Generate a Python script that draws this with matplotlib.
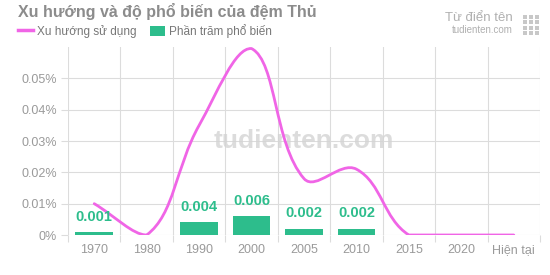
import numpy as np
import matplotlib
matplotlib.use("Agg")
import matplotlib.pyplot as plt
from matplotlib.path import Path
from matplotlib.patches import PathPatch, Rectangle
from matplotlib.lines import Line2D

plt.rcParams['font.family'] = ['Liberation Sans', 'DejaVu Sans']

# data
years = ['1970', '1980', '1990', '2000', '2005', '2010', '2015', '2020', 'Hiện tại']
trend = [0.010, 0.0, 0.035, 0.0595, 0.018, 0.021, 0.0, 0.0, 0.0]
popularity = [0.001, None, 0.004, 0.006, 0.002, 0.002, None, None, None]
yticks = [0, 0.01, 0.02, 0.03, 0.04, 0.05]
ytick_labels = ['0%', '0.01%', '0.02%', '0.03%', '0.04%', '0.05%']

PINK = '#f065e6'
GREEN = '#2dbd8c'
GRID = '#dcdcdc'
TXT = '#9a9a9a'

fig = plt.figure(figsize=(5.5, 2.75), dpi=100)
ax = fig.add_axes([68 / 550, 1 - 235 / 275, 472 / 550, 188 / 275])
ymax = 0.06
ax.set_xlim(-0.5, len(years) - 0.5)
ax.set_ylim(0, ymax)

# bars + labels
x = np.arange(len(years))
for xi, v in zip(x, popularity):
    if v is None:
        continue
    ax.bar(xi, v, width=0.72, color=GREEN, zorder=2)
    ax.annotate(f'{v:.3f}', (xi, v), xytext=(0, 6), textcoords='offset points',
                ha='center', va='bottom', color=GREEN, fontsize=10.5,
                fontweight='bold', zorder=4)


# smooth line, chart.js style spline (tension 0.4) with control points capped to the area
def spline_path(xs, ys, t=0.4):
    sx = 472 / len(xs)
    sy = 188 / ymax
    px = np.array(xs, float) * sx
    py = np.array(ys, float) * sy
    n = len(px)
    cp_prev, cp_next = [], []
    for i in range(n):
        p0 = (px[max(i - 1, 0)], py[max(i - 1, 0)])
        p1 = (px[i], py[i])
        p2 = (px[min(i + 1, n - 1)], py[min(i + 1, n - 1)])
        d01 = np.hypot(p1[0] - p0[0], p1[1] - p0[1])
        d12 = np.hypot(p2[0] - p1[0], p2[1] - p1[1])
        tot = d01 + d12
        s01 = d01 / tot if tot else 0
        s12 = d12 / tot if tot else 0
        fa, fb = t * s01, t * s12
        a = (p1[0] - fa * (p2[0] - p0[0]), p1[1] - fa * (p2[1] - p0[1]))
        b = (p1[0] + fb * (p2[0] - p0[0]), p1[1] + fb * (p2[1] - p0[1]))
        cap = lambda q: (q[0] / sx, min(max(q[1] / sy, 0), ymax))
        cp_prev.append(cap(a))
        cp_next.append(cap(b))
    verts = [(xs[0], ys[0])]
    codes = [Path.MOVETO]
    for i in range(n - 1):
        verts += [cp_next[i], cp_prev[i + 1], (xs[i + 1], ys[i + 1])]
        codes += [Path.CURVE4] * 3
    return Path(verts, codes)


ax.add_patch(PathPatch(spline_path(list(x), trend), facecolor='none',
                       edgecolor=PINK, lw=2.0, zorder=3, capstyle='round'))

# axes styling
ax.set_xticks(x)
ax.set_xticklabels([])
ax.set_xticks(np.arange(-0.5, len(years), 1), minor=True)
ax.set_yticks(yticks)
ax.set_yticklabels(ytick_labels)
ax.tick_params(axis='x', which='major', length=0)
ax.tick_params(axis='x', which='minor', length=5, color=GRID, width=0.8)
ax.tick_params(axis='y', length=5, color=GRID, width=0.8, pad=3, labelsize=9, labelcolor=TXT)
# x labels on a common baseline
for xi, lab in zip(x, years):
    ax.annotate(lab, (xi, 0), xycoords=('data', 'axes fraction'), xytext=(0, -13),
                textcoords='offset points', ha='center', va='baseline',
                fontsize=9, color=TXT, annotation_clip=False)
ax.grid(axis='x', which='minor', color=GRID, lw=0.8, zorder=0)
ax.grid(axis='y', which='major', color=GRID, lw=0.8, zorder=0)
for s in ax.spines.values():
    s.set_visible(False)
ax.set_axisbelow(True)

# watermark
ax.text(0.5, 0.5, 'tudienten.com', transform=ax.transAxes, ha='center', va='center',
        fontsize=19, fontweight='bold', color='#d4d4d4', alpha=0.8, zorder=1)

# title and legend
fig.text(18 / 550, 1 - 12 / 275, 'Xu hướng và độ phổ biến của đệm Thủ', fontsize=11.5,
         fontweight='bold', color='#8c8c8c', ha='left', va='center')
handles = [Line2D([], [], color=PINK, lw=2.5),
           Rectangle((0, 0), 1, 1, facecolor=GREEN)]
fig.legend(handles, ['Xu hướng sử dụng', 'Phần trăm phổ biến'], loc='center left',
           bbox_to_anchor=(18 / 550, 1 - 31 / 275), ncol=2, frameon=False, fontsize=8.5,
           labelcolor='#777777', handlelength=1.3, handleheight=0.9, handletextpad=0.35,
           columnspacing=1.1, borderaxespad=0, borderpad=0)

# logo
fig.text(513 / 550, 1 - 18 / 275, 'Từ điển tên', fontsize=9.5, color='#b0b0b0',
         ha='right', va='center')
fig.text(513 / 550, 1 - 30 / 275, 'tudienten.com', fontsize=7, color='#b0b0b0',
         ha='right', va='center')
for i in range(3):
    for j in range(4):
        fig.patches.append(Rectangle(((523 + i * 6) / 550, 1 - (35 - j * 5.5) / 275), 4 / 550,
                                     4 / 275, transform=fig.transFigure,
                                     facecolor='#c8c8c8', edgecolor='none'))

fig.savefig('out.png', dpi=100)
